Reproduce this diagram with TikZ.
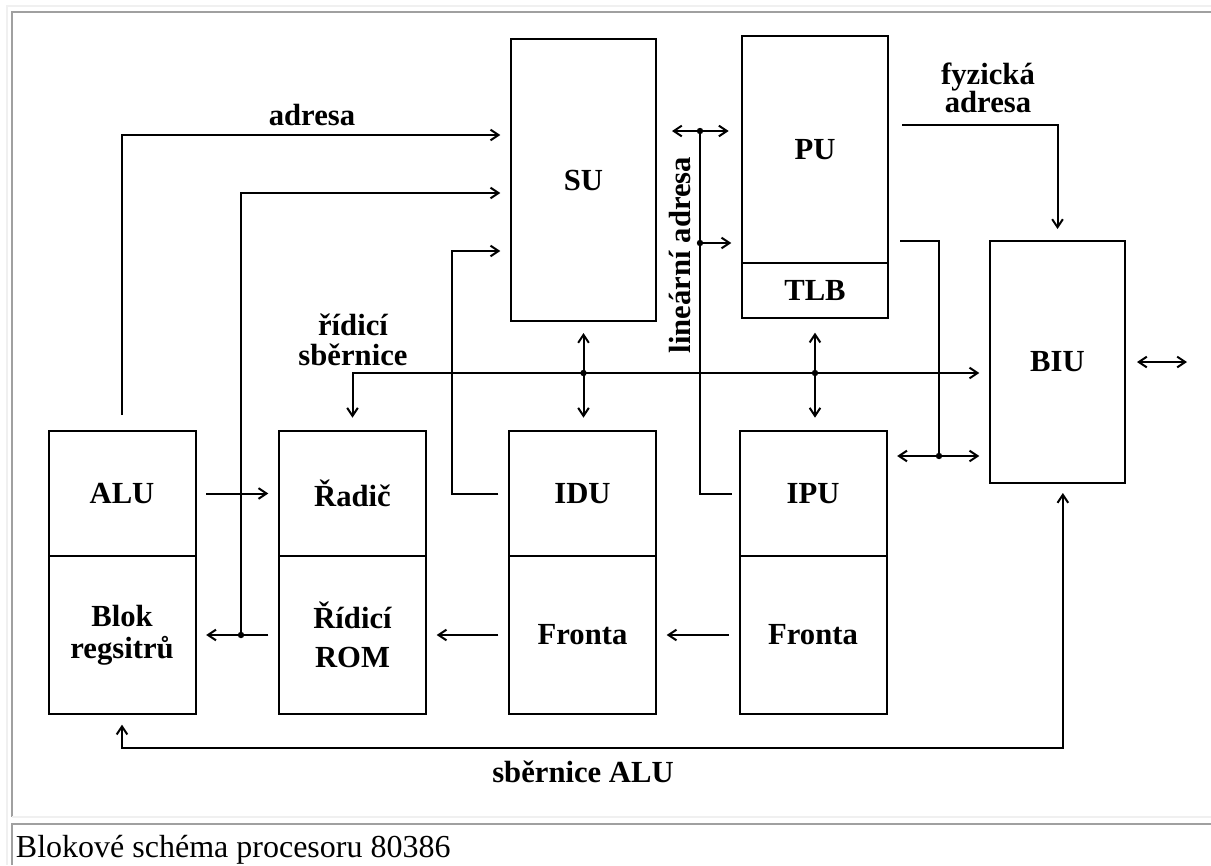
\documentclass[tikz,border=0pt]{standalone}
\usepackage{fontspec}
\setmainfont{Liberation Serif}
\usetikzlibrary{arrows.meta,positioning}
\definecolor{ramecek}{HTML}{A0A0A0}
\definecolor{svetly}{HTML}{F0F0F0}

\begin{document}
\begin{tikzpicture}[x=0.75pt, y=-0.75pt, line width=1.5pt,
    every node/.style={font=\bfseries\fontsize{23}{24}\selectfont, inner sep=0pt, align=center},
    jednotka/.style={draw, outer sep=0pt, minimum width=110.25pt},
    hrot/.style={-{Straight Barb[length=6pt,width=8pt]}, shorten >=8pt, shorten <=8pt},
    oba/.style={{Straight Barb[length=6pt,width=8pt]}-{Straight Barb[length=6pt,width=8pt]}, shorten >=8pt, shorten <=8pt}]
  \useasboundingbox (0,0) rectangle (1211,865);

  % ramecek tabulky
  \draw[svetly, line width=1.5pt] (6.5,865) -- (6.5,5.5) -- (1211,5.5);
  \draw[ramecek, line width=1.5pt] (12,817) -- (12,12) -- (1211,12);
  \draw[svetly, line width=1.5pt] (12,817) -- (1211,817);
  \draw[ramecek, line width=1.5pt] (12,865) -- (12,824) -- (1211,824);
  \node[anchor=base west, font=\fontsize{24}{28}\selectfont] (popis) at (15,857) {Blokové schéma procesoru 80386};

  % 1. jednotky
  \node[jednotka, minimum height=93.75pt] (alu) at (122,493.5) {ALU};
  \node[jednotka, minimum height=118.5pt, below=0pt of alu] (registry) {Blok\\regsitrů};
  \node[jednotka, minimum height=93.75pt] (radic) at (352.5,493.5) {Řadič};
  \node[jednotka, minimum height=118.5pt, below=0pt of radic] (rom) {Řídicí\\[5pt]ROM};
  \node[jednotka, minimum height=93.75pt] (idu) at (582.5,493.5) {IDU};
  \node[jednotka, minimum height=118.5pt, below=0pt of idu] (frontaD) {Fronta};
  \node[jednotka, minimum height=93.75pt] (ipu) at (813,493.5) {IPU};
  \node[jednotka, minimum height=118.5pt, below=0pt of ipu] (frontaP) {Fronta};

  \node[jednotka, minimum width=108.75pt, minimum height=211.5pt] (su) at (583.5,180) {SU};
  \node[jednotka, minimum width=109.5pt, minimum height=170.25pt] (pu) at (815,149.5) {PU};
  \node[jednotka, minimum width=109.5pt, minimum height=41.25pt, below=0pt of pu] (tlb) {TLB};
  \node[jednotka, minimum width=101.25pt, minimum height=181.5pt] (biu) at (1057.5,362) {BIU};

  % 2. popisky
  \node (adresa) at (312,115) {adresa};
  \node[font=\bfseries\fontsize{23}{22.5}\selectfont] (ridici) at (353,340) {řídicí\\sběrnice};
  \node[font=\bfseries\fontsize{23}{21}\selectfont] (fyzicka) at (988,88) {fyzická\\adresa};
  \node[rotate=90] (linearni) at (680,255) {lineární adresa};
  \node (sbernice) at (583,772) {sběrnice ALU};

  % 3. spoje
  \coordinate (c1) at (122,135);
  \coordinate (c2) at (241,635);
  \coordinate (c2h) at (241,193);
  \coordinate (c3) at (452,251);
  \draw[hrot, shorten <=12pt] (alu.north) |- (su.west |- c1);
  \draw[hrot] (rom.west) -- (rom.west -| registry.east);
  \draw[hrot, shorten <=0pt] (c2) -- (c2h) -- (su.west |- c2h);
  \fill (c2) circle (2.4pt);
  \draw[hrot] (idu.west) -| (c3) -- (c3 -| su.west);
  \draw[hrot] (alu.east) -- (alu.east -| radic.west);
  \draw[hrot] (frontaP.west) -- (frontaD.east);
  \draw[hrot] (frontaD.west) -- (rom.east);

  % ridici sbernice
  \coordinate (sb) at (583.5,373);
  \draw[oba, shorten <=10pt] (radic.north) |- (sb) -- (sb -| biu.west);
  \draw[oba, shorten <=9pt, shorten >=10pt] (su.south) -- (su.south |- idu.north);
  \draw[oba, shorten <=11pt, shorten >=10pt] (tlb.south) -- (tlb.south |- ipu.north);
  \fill (sb) circle (2.4pt);
  \fill (sb -| tlb.south) circle (2.4pt);

  % linearni adresa
  \coordinate (la1) at (700,131);
  \coordinate (la2) at (700,243);
  \draw[shorten >=6pt] (la1) |- (ipu.west);
  \draw[oba, shorten <=12pt, shorten >=10pt] (la1 -| su.east) -- (la1 -| pu.west);
  \draw[hrot, shorten <=0pt] (la2) -- (la2 -| pu.west);
  \fill (la1) circle (2.4pt);
  \fill (la2) circle (2.4pt);

  % fyzicka adresa
  \coordinate (fa) at (888,125);
  \draw[hrot, shorten <=10.5pt, shorten >=9pt] (fa) -| (biu.north);

  % PU - BIU
  \coordinate (pb) at (939,456);
  \draw[shorten <=9pt] (pu.east |- biu.north) -| (pb);
  \draw[oba] (ipu.east |- pb) -- (biu.west |- pb);
  \fill (pb) circle (2.4pt);
  \draw[oba, shorten <=9pt, shorten >=9pt] (biu.east) -- ++(74,0);

  % sbernice ALU
  \coordinate (sa) at (1063,748);
  \draw[oba, shorten <=7.5pt, shorten >=8pt] ([xshift=4pt]biu.south) |- (sa -| registry.south) -- (registry.south);
\end{tikzpicture}
\end{document}
